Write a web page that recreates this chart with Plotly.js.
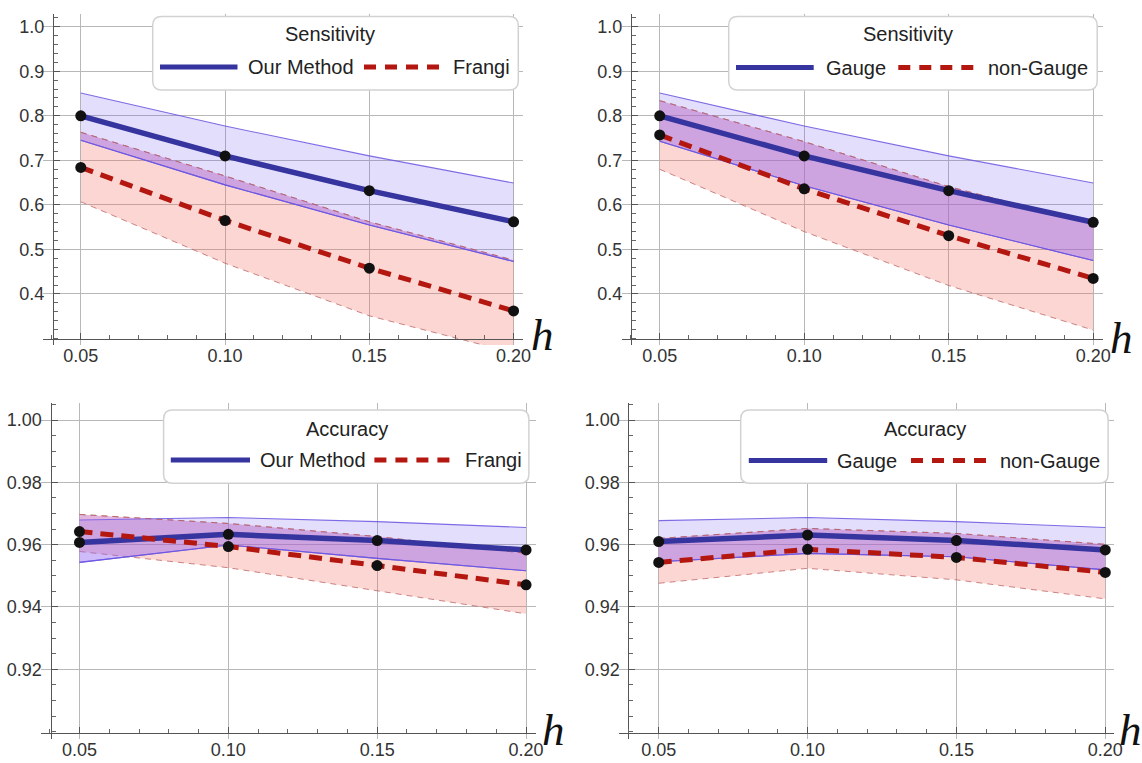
<!DOCTYPE html>
<html>
<head>
<meta charset="utf-8">
<script src="https://cdn.plot.ly/plotly-3.0.1.min.js"></script>
<style>
  html, body { margin: 0; padding: 0; background: #ffffff; }
  #chart { width: 1142px; height: 763px; }
</style>
</head>
<body>
<div id="chart"></div>
<script>
// ---------------- DATA ----------------
const hValues = [0.05, 0.10, 0.15, 0.20];
const hTickText = ['0.05', '0.10', '0.15', '0.20'];

const sensTickVals = [0.4, 0.5, 0.6, 0.7, 0.8, 0.9, 1.0];
const sensTickText = ['0.4', '0.5', '0.6', '0.7', '0.8', '0.9', '1.0'];
const accTickVals = [0.92, 0.94, 0.96, 0.98, 1.00];
const accTickText = ['0.92', '0.94', '0.96', '0.98', '1.00'];

// Top-left: Sensitivity, Our Method vs Frangi
const sensOurMean   = [0.800, 0.710, 0.632, 0.562];
const sensOurUpper  = [0.851, 0.777, 0.710, 0.649];
const sensOurLower  = [0.745, 0.645, 0.555, 0.473];
const sensFrangiMean  = [0.684, 0.565, 0.458, 0.362];
const sensFrangiUpper = [0.763, 0.665, 0.562, 0.476];
const sensFrangiLower = [0.607, 0.469, 0.351, 0.268];

// Top-right: Sensitivity, Gauge vs non-Gauge
const sensGaugeMean   = [0.800, 0.710, 0.632, 0.561];
const sensGaugeUpper  = [0.851, 0.777, 0.710, 0.649];
const sensGaugeLower  = [0.743, 0.643, 0.555, 0.475];
const sensNonGaugeMean  = [0.757, 0.636, 0.531, 0.435];
const sensNonGaugeUpper = [0.834, 0.742, 0.641, 0.558];
const sensNonGaugeLower = [0.680, 0.540, 0.419, 0.319];

// Bottom-left: Accuracy, Our Method vs Frangi
const accOurMean   = [0.9607, 0.9633, 0.9613, 0.9583];
const accOurUpper  = [0.9679, 0.9687, 0.9674, 0.9655];
const accOurLower  = [0.9543, 0.9599, 0.9556, 0.9516];
const accFrangiMean  = [0.9642, 0.9594, 0.9533, 0.9471];
const accFrangiUpper = [0.9697, 0.9668, 0.9626, 0.9572];
const accFrangiLower = [0.9578, 0.9526, 0.9452, 0.9378];

// Bottom-right: Accuracy, Gauge vs non-Gauge
const accGaugeMean   = [0.9610, 0.9631, 0.9613, 0.9583];
const accGaugeUpper  = [0.9677, 0.9687, 0.9674, 0.9655];
const accGaugeLower  = [0.9545, 0.9572, 0.9561, 0.9519];
const accNonGaugeMean  = [0.9543, 0.9585, 0.9559, 0.9511];
const accNonGaugeUpper = [0.9620, 0.9652, 0.9636, 0.9601];
const accNonGaugeLower = [0.9476, 0.9524, 0.9487, 0.9426];

const panelTitles = ['Sensitivity', 'Sensitivity', 'Accuracy', 'Accuracy'];
const blueNames = ['Our Method', 'Gauge', 'Our Method', 'Gauge'];
const redNames  = ['Frangi', 'non-Gauge', 'Frangi', 'non-Gauge'];
const axisVarLabel = 'h';

// ---------------- STYLE / GEOMETRY ----------------
const W = 1142, H = 763;
const PX = p => p / W;
const PY = p => 1 - p / H;

const SANS = "'Liberation Sans', Arial, Helvetica, sans-serif";
const SERIF = "'Liberation Serif', 'Times New Roman', serif";
const TICK_SIZE = 18;
const LEG_SIZE = 20;

const blueLine = '#36349f';
const redLine = '#b3170f';
const blueEdge = 'rgba(105,85,225,0.85)';
const pinkEdge = 'rgba(185,95,95,0.75)';
const blueFill = 'rgba(100,80,235,0.19)';
const pinkFill = 'rgba(240,105,90,0.27)';
const overlapTint = 'rgba(165,105,250,0.30)';

const panels = [
  { xd: [43, 523.4],   xr: [0.0369, 0.2034], yd: [14, 345],    yr: [0.2855, 1.0285], yPos: 53,    xPos: 339,
    kind: 'sens',
    legend: { box: [152.7, 16.5, 518.3, 90], tcx: 330, ty: 34, ey: 67, s1: [160, 237.5], t1: 247, s2: [364, 441.7], t2: 451.7 },
    hPos: [529, 335] },
  { xd: [621.5, 1102.7], xr: [0.03678, 0.20329], yd: [14, 345], yr: [0.2855, 1.0285], yPos: 631,  xPos: 339,
    kind: 'sens',
    legend: { box: [728.7, 16.5, 1097.2, 90], tcx: 907.5, ty: 34, ey: 67.5, s1: [736, 813.7], t1: 824.7, s2: [898.3, 976.8], t2: 987 },
    hPos: [1108, 338] },
  { xd: [41, 536],     xr: [0.03707, 0.20334], yd: [403.3, 739], yr: [0.89763, 1.00536], yPos: 50.5, xPos: 733.3,
    kind: 'acc',
    legend: { box: [163.6, 410, 528.9, 483.3], tcx: 347, ty: 429, ey: 460, s1: [170.8, 250], t1: 258.8, s2: [374.4, 454.4], t2: 463.5 },
    hPos: [540, 730] },
  { xd: [619, 1113.6], xr: [0.03666, 0.2028], yd: [403.3, 739], yr: [0.89763, 1.00536], yPos: 628.4, xPos: 733.3,
    kind: 'acc',
    legend: { box: [740.7, 410, 1108.1, 483.3], tcx: 924.8, ty: 429, ey: 460.5, s1: [748.8, 827.2], t1: 836.3, s2: [911, 989.6], t2: 998.7 },
    hPos: [1117, 730] }
];

const seriesSets = [
  [sensOurMean, sensOurUpper, sensOurLower, sensFrangiMean, sensFrangiUpper, sensFrangiLower],
  [sensGaugeMean, sensGaugeUpper, sensGaugeLower, sensNonGaugeMean, sensNonGaugeUpper, sensNonGaugeLower],
  [accOurMean, accOurUpper, accOurLower, accFrangiMean, accFrangiUpper, accFrangiLower],
  [accGaugeMean, accGaugeUpper, accGaugeLower, accNonGaugeMean, accNonGaugeUpper, accNonGaugeLower]
];

// ---------------- TRACES ----------------
const traces = [];
seriesSets.forEach((s, i) => {
  const xa = i === 0 ? 'x' : 'x' + (i + 1);
  const ya = i === 0 ? 'y' : 'y' + (i + 1);
  const [bMean, bUp, bLo, rMean, rUp, rLo] = s;
  const common = { x: hValues, xaxis: xa, yaxis: ya, showlegend: false, hoverinfo: 'skip' };
  // red (pink) band
  traces.push(Object.assign({}, common, { y: rUp, mode: 'lines', line: { color: pinkEdge, width: 1, dash: '6px,5px' } }));
  traces.push(Object.assign({}, common, { y: rLo, mode: 'lines', line: { color: pinkEdge, width: 1, dash: '6px,5px' }, fill: 'tonexty', fillcolor: pinkFill }));
  // blue band
  traces.push(Object.assign({}, common, { y: bUp, mode: 'lines', line: { color: blueEdge, width: 1.1 } }));
  traces.push(Object.assign({}, common, { y: bLo, mode: 'lines', line: { color: blueEdge, width: 1.1 }, fill: 'tonexty', fillcolor: blueFill }));
  // overlap tint between the red band's upper edge and the blue band's lower edge
  traces.push(Object.assign({}, common, { y: rUp, mode: 'lines', line: { width: 0, color: 'rgba(0,0,0,0)' } }));
  traces.push(Object.assign({}, common, { y: bLo, mode: 'lines', line: { width: 0, color: 'rgba(0,0,0,0)' }, fill: 'tonexty', fillcolor: overlapTint }));
  // redraw thin band edges on top of tint
  traces.push(Object.assign({}, common, { y: rUp, mode: 'lines', line: { color: pinkEdge, width: 1, dash: '6px,5px' } }));
  traces.push(Object.assign({}, common, { y: bLo, mode: 'lines', line: { color: blueEdge, width: 1.1 } }));
  // means
  traces.push(Object.assign({}, common, { y: bMean, name: blueNames[i], mode: 'lines+markers',
    line: { color: blueLine, width: 5.5 }, marker: { color: '#111111', size: 11 } }));
  traces.push(Object.assign({}, common, { y: rMean, name: redNames[i], mode: 'lines+markers',
    line: { color: redLine, width: 5, dash: '13px,8px' }, marker: { color: '#111111', size: 11 } }));
});

// ---------------- LAYOUT ----------------
const layout = {
  width: W, height: H,
  margin: { l: 0, r: 0, t: 0, b: 0 },
  paper_bgcolor: '#ffffff',
  plot_bgcolor: 'rgba(0,0,0,0)',
  showlegend: false,
  font: { family: SANS, size: TICK_SIZE, color: '#333333' },
  shapes: [],
  annotations: []
};

function roundRect(x0, y0, x1, y1, r) {
  const P = (x, y) => PX(x).toFixed(5) + ',' + PY(y).toFixed(5);
  return 'M' + P(x0 + r, y0) + ' L' + P(x1 - r, y0) + ' Q' + P(x1, y0) + ' ' + P(x1, y0 + r) +
         ' L' + P(x1, y1 - r) + ' Q' + P(x1, y1) + ' ' + P(x1 - r, y1) +
         ' L' + P(x0 + r, y1) + ' Q' + P(x0, y1) + ' ' + P(x0, y1 - r) +
         ' L' + P(x0, y0 + r) + ' Q' + P(x0, y0) + ' ' + P(x0 + r, y0) + ' Z';
}

panels.forEach((p, i) => {
  const sfx = i === 0 ? '' : String(i + 1);
  const isSens = p.kind === 'sens';
  layout['xaxis' + sfx] = {
    domain: [PX(p.xd[0]), PX(p.xd[1])],
    range: p.xr,
    anchor: 'free',
    position: PY(p.xPos),
    tickmode: 'array', tickvals: hValues, ticktext: hTickText,
    showgrid: true, gridcolor: '#b8b8b8', gridwidth: 1,
    zeroline: false,
    showline: true, linecolor: '#555555', linewidth: 1,
    ticks: 'inside', ticklen: 6, tickcolor: '#555555', tickwidth: 1,
    ticklabelstandoff: 0,
    minor: { ticks: 'inside', ticklen: 4, tickcolor: '#666666', dtick: 0.01, tick0: 0, showgrid: false },
    tickfont: { family: SANS, size: TICK_SIZE, color: '#333333' },
    fixedrange: true
  };
  layout['yaxis' + sfx] = {
    domain: [PY(p.yd[1]), PY(p.yd[0])],
    range: p.yr,
    anchor: 'free',
    position: PX(p.yPos),
    tickmode: 'array',
    tickvals: isSens ? sensTickVals : accTickVals,
    ticktext: isSens ? sensTickText : accTickText,
    showgrid: true, gridcolor: '#b8b8b8', gridwidth: 1,
    zeroline: false,
    showline: true, linecolor: '#555555', linewidth: 1,
    ticks: 'inside', ticklen: 6, tickcolor: '#555555', tickwidth: 1,
    ticklabelstandoff: 5,
    minor: { ticks: 'inside', ticklen: 4, tickcolor: '#666666', dtick: isSens ? 0.02 : 0.005, tick0: isSens ? 0.3 : 0.9, showgrid: false },
    tickfont: { family: SANS, size: TICK_SIZE, color: '#333333' },
    fixedrange: true
  };

  // legend box
  const L = p.legend;
  layout.shapes.push({
    type: 'path', xref: 'paper', yref: 'paper',
    path: roundRect(L.box[0], L.box[1], L.box[2], L.box[3], 9),
    fillcolor: '#ffffff', line: { color: '#d2d2d2', width: 1.5 }, layer: 'above'
  });
  layout.shapes.push({
    type: 'line', xref: 'paper', yref: 'paper',
    x0: PX(L.s1[0]), x1: PX(L.s1[1]), y0: PY(L.ey), y1: PY(L.ey),
    line: { color: blueLine, width: 5 }, layer: 'above'
  });
  layout.shapes.push({
    type: 'line', xref: 'paper', yref: 'paper',
    x0: PX(L.s2[0]), x1: PX(L.s2[1]), y0: PY(L.ey), y1: PY(L.ey),
    line: { color: redLine, width: 5, dash: '12px,9px' }, layer: 'above'
  });
  layout.annotations.push({
    xref: 'paper', yref: 'paper', x: PX(L.tcx), y: PY(L.ty), xanchor: 'center', yanchor: 'middle',
    text: panelTitles[i], showarrow: false, font: { family: SANS, size: LEG_SIZE, color: '#222222' }
  });
  layout.annotations.push({
    xref: 'paper', yref: 'paper', x: PX(L.t1 - 1), y: PY(L.ey), xanchor: 'left', yanchor: 'middle',
    text: blueNames[i], showarrow: false, font: { family: SANS, size: LEG_SIZE, color: '#222222' }
  });
  layout.annotations.push({
    xref: 'paper', yref: 'paper', x: PX(L.t2 - 1), y: PY(L.ey), xanchor: 'left', yanchor: 'middle',
    text: redNames[i], showarrow: false, font: { family: SANS, size: LEG_SIZE, color: '#222222' }
  });
  // axis variable label
  layout.annotations.push({
    xref: 'paper', yref: 'paper', x: PX(p.hPos[0]), y: PY(p.hPos[1]), xanchor: 'left', yanchor: 'middle',
    text: axisVarLabel, showarrow: false, font: { family: SERIF, size: 45, color: '#111111', style: 'italic' }
  });
});

Plotly.newPlot('chart', traces, layout, { displayModeBar: false, staticPlot: true });
</script>
</body>
</html>
